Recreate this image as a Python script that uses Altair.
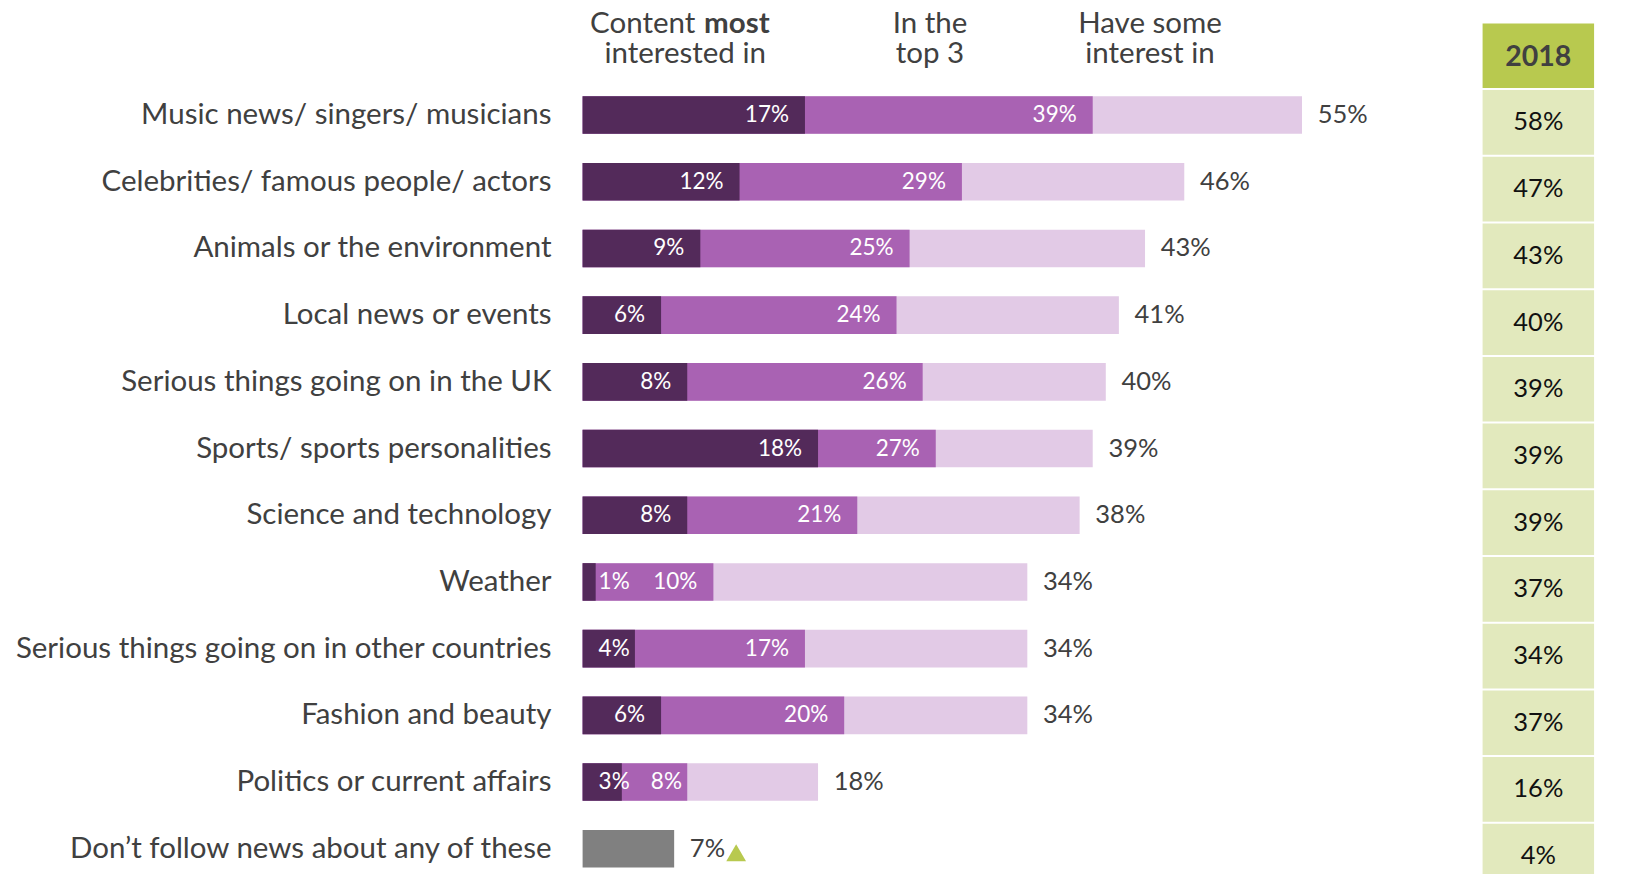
import altair as alt
import pandas as pd

# ---------------- data ----------------
categories = [
    "Music news/ singers/ musicians",
    "Celebrities/ famous people/ actors",
    "Animals or the environment",
    "Local news or events",
    "Serious things going on in the UK",
    "Sports/ sports personalities",
    "Science and technology",
    "Weather",
    "Serious things going on in other countries",
    "Fashion and beauty",
    "Politics or current affairs",
    "Don’t follow news about any of these",
]
most = [17, 12, 9, 6, 8, 18, 8, 1, 4, 6, 3, None]
top3 = [39, 29, 25, 24, 26, 27, 21, 10, 17, 20, 8, None]
some = [55, 46, 43, 41, 40, 39, 38, 34, 34, 34, 18, 7]
kind = ["topic"] * 11 + ["none"]
y2018 = [58, 47, 43, 40, 39, 39, 39, 37, 34, 37, 16, 4]
year_label = "2018"
flag_rows = ["Don’t follow news about any of these"]

hdr_content = "Content"
hdr_most = "most"
hdr_lines = ["interested in", "In the", "top 3", "Have some", "interest in"]

# ---------------- styles ----------------
DARK = "#532a5a"
MID = "#a962b3"
LIGHT = "#e2cae6"
GRAY = "#808080"
GREEN = "#b8c94f"
LGREEN = "#e2e9bd"
TXT = "#404040"
FONT = "Lato"

PX_PER = 13.08
W = 1037
H = 792
STEP = 66.7
BAR = 37.6
HDR_FS = 29.5
IN_FS = 22.5
OUT_FS = 25.5

df = pd.DataFrame({"category": categories, "most": most, "top3": top3,
                   "some": some, "kind": kind, "y2018": y2018})

xscale = alt.Scale(domain=[0, W / PX_PER], nice=False, zero=True)
yscale = alt.Scale(domain=categories, paddingInner=0, paddingOuter=0,
                   range=[0, STEP * len(categories)])

yenc = alt.Y("category:N", sort=categories, scale=yscale,
             axis=alt.Axis(title=None, labelFont=FONT, labelFontSize=29.5,
                           labelColor=TXT, labelPadding=31.6, ticks=False,
                           domain=False, grid=False, labelLimit=1000))

base = alt.Chart(df).encode(y=yenc)

light = base.transform_filter("datum.kind == 'topic'").mark_bar(size=BAR, color=LIGHT).encode(
    x=alt.X("some:Q", scale=xscale, axis=None))
gray = base.transform_filter("datum.kind == 'none'").mark_bar(size=BAR, color=GRAY).encode(
    x=alt.X("some:Q", scale=xscale, axis=None))
midb = base.transform_filter("datum.kind == 'topic'").mark_bar(size=BAR, color=MID).encode(
    x=alt.X("top3:Q", scale=xscale, axis=None))
darkb = base.transform_filter("datum.kind == 'topic'").mark_bar(size=BAR, color=DARK).encode(
    x=alt.X("most:Q", scale=xscale, axis=None))

lab = base.transform_calculate(
    lmost="datum.most + '%'", ltop="datum.top3 + '%'", lsome="datum.some + '%'")

t_dark = lab.transform_filter("datum.kind == 'topic' && datum.most >= 5").mark_text(
    align="right", baseline="middle", dx=-16, font=FONT, fontSize=IN_FS, color="white").encode(
    x=alt.X("most:Q", scale=xscale, axis=None), text="lmost:N")
t_dark_small = lab.transform_filter("datum.kind == 'topic' && datum.most < 5").mark_text(
    align="left", baseline="middle", dx=16, font=FONT, fontSize=IN_FS, color="white").encode(
    x=alt.value(0), text="lmost:N")
t_mid = lab.transform_filter("datum.kind == 'topic' && datum.top3 - datum.most >= 6").mark_text(
    align="right", baseline="middle", dx=-16, font=FONT, fontSize=IN_FS, color="white").encode(
    x=alt.X("top3:Q", scale=xscale, axis=None), text="ltop:N")
t_mid_small = lab.transform_filter("datum.kind == 'topic' && datum.top3 - datum.most < 6").mark_text(
    align="left", baseline="middle", dx=29, font=FONT, fontSize=IN_FS, color="white").encode(
    x=alt.X("most:Q", scale=xscale, axis=None), text="ltop:N")
t_some = lab.mark_text(
    align="left", baseline="middle", dx=15.7, font=FONT, fontSize=OUT_FS, color=TXT).encode(
    x=alt.X("some:Q", scale=xscale, axis=None), text="lsome:N")

tri = base.transform_filter(alt.FieldOneOfPredicate(field="category", oneOf=flag_rows)).mark_point(
    shape="triangle-up", filled=True, size=390, color=GREEN, opacity=1, xOffset=62, yOffset=4).encode(
    x=alt.X("some:Q", scale=xscale, axis=None))

# 2018 comparison column
COLX1, COLX2 = 900, 1011.5
cells = base.mark_bar(size=64.7, yOffset=7.4, color=LGREEN).encode(
    x=alt.value(COLX1), x2=alt.value(COLX2))
cell_txt = base.transform_calculate(l18="datum.y2018 + '%'").mark_text(
    align="center", baseline="middle", yOffset=7.4, font=FONT, fontSize=OUT_FS, color="#111111").encode(
    x=alt.value((COLX1 + COLX2) / 2), text="l18:N")

hdr_df = pd.DataFrame({"category": [categories[0]], "label": [year_label]})
hbase = alt.Chart(hdr_df).encode(y=yenc)
hdr_cell = hbase.mark_bar(size=64.7, yOffset=7.4 - STEP, color=GREEN).encode(
    x=alt.value(COLX1), x2=alt.value(COLX2))
hdr_txt = hbase.mark_text(align="center", baseline="middle", yOffset=7.4 - STEP + 1.5,
                          font=FONT, fontSize=28.5, fontWeight="bold", color=TXT).encode(
    x=alt.value((COLX1 + COLX2) / 2), text="label:N")

# column headers
L1, L2 = -48.3, -18.5
col_df = pd.DataFrame({
    "t": [hdr_lines[0], hdr_lines[1], hdr_lines[2], hdr_lines[3], hdr_lines[4]],
    "xp": [102.6, 347.4, 347.4, 567.4, 567.4],
    "yp": [L2, L1, L2, L1, L2],
})
col_txt = alt.Chart(col_df).mark_text(align="center", baseline="alphabetic", font=FONT,
                                      fontSize=HDR_FS, color=TXT).encode(
    x=alt.X("xp:Q", scale=None, axis=None), y=alt.Y("yp:Q", scale=None, axis=None), text="t:N")
c1 = alt.Chart(pd.DataFrame({"t": [hdr_content]})).mark_text(
    align="right", baseline="alphabetic", font=FONT, fontSize=HDR_FS, color=TXT).encode(
    x=alt.value(112.7), y=alt.value(L1), text="t:N")
c2 = alt.Chart(pd.DataFrame({"t": [hdr_most]})).mark_text(
    align="left", baseline="alphabetic", font=FONT, fontSize=HDR_FS, fontWeight="bold", color=TXT).encode(
    x=alt.value(121.5), y=alt.value(L1), text="t:N")

chart = alt.layer(
    light, gray, midb, darkb, t_dark, t_dark_small, t_mid, t_mid_small, t_some, tri,
    cells, cell_txt, hdr_cell, hdr_txt, col_txt, c1, c2,
).properties(
    width=W, height=H,
    padding={"left": 574.6, "top": 73.7, "right": 0, "bottom": 0},
    autosize=alt.AutoSizeParams(type="none"),
    background="white",
).configure_view(stroke=None)

chart.save("out.html", embed_options={"renderer": "svg", "actions": False})
